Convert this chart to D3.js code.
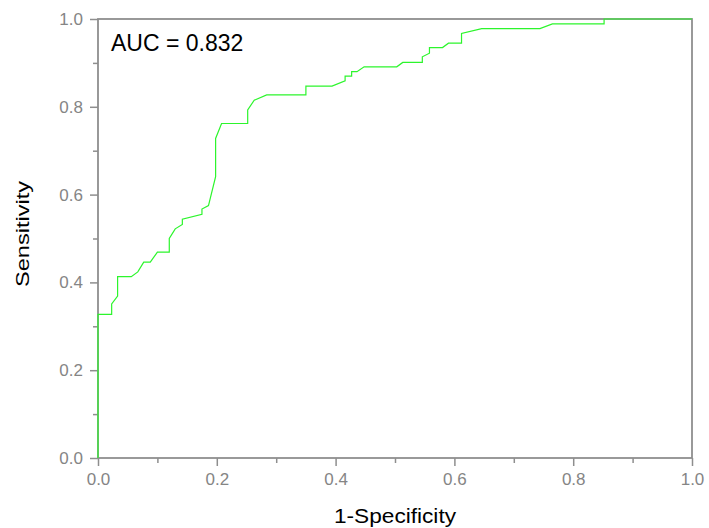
<!DOCTYPE html>
<html>
<head>
<meta charset="utf-8">
<script src="https://cdn.jsdelivr.net/npm/d3@7"></script>
<style>
  body { margin: 0; background: #fff; }
  text { font-family: "Liberation Sans", Arial, sans-serif; }
</style>
</head>
<body>
<svg id="chart" width="709" height="528"></svg>
<script>
// ROC curve points (1-specificity, sensitivity)
const fpr = [0, 0, 0.023, 0.023, 0.033, 0.033, 0.056, 0.067, 0.077, 0.088, 0.100, 0.120,
  0.120, 0.130, 0.142, 0.142, 0.175, 0.175, 0.186, 0.198, 0.198, 0.208, 0.252, 0.252,
  0.263, 0.284, 0.350, 0.350, 0.394, 0.416, 0.416, 0.427, 0.427, 0.436, 0.448, 0.503,
  0.513, 0.546, 0.546, 0.558, 0.558, 0.580, 0.590, 0.612, 0.612, 0.646, 0.744, 0.765,
  0.852, 0.852, 1];
const tpr = [0, 0.327, 0.327, 0.351, 0.369, 0.413, 0.413, 0.424, 0.446, 0.446, 0.469, 0.469,
  0.500, 0.522, 0.532, 0.544, 0.555, 0.567, 0.575, 0.641, 0.728, 0.762, 0.762, 0.793,
  0.815, 0.827, 0.827, 0.847, 0.847, 0.859, 0.870, 0.870, 0.880, 0.880, 0.891, 0.891,
  0.901, 0.901, 0.914, 0.922, 0.935, 0.935, 0.945, 0.945, 0.967, 0.978, 0.978, 0.989,
  0.989, 1, 1];
const majorTicks = [0, 0.2, 0.4, 0.6, 0.8, 1.0];
const minorTicks = [0.1, 0.3, 0.5, 0.7, 0.9];
const aucLabel = "AUC = 0.832";

const svg = d3.select("#chart");
const margin = { top: 19, right: 17, bottom: 70, left: 98 };
const width = 709 - margin.left - margin.right;
const height = 528 - margin.top - margin.bottom;
const axisColor = "#8e8e8e";
const labelColor = "#858585";

const x = d3.scaleLinear().domain([0, 1]).range([margin.left, margin.left + width]);
const y = d3.scaleLinear().domain([0, 1]).range([margin.top + height, margin.top]);

const fmt = d3.format(".1f");

// minor ticks first, then major ones with labels
const xMinor = svg.append("g")
  .attr("transform", `translate(0,${y(0)})`)
  .call(d3.axisBottom(x).tickValues(minorTicks).tickSize(5).tickFormat(""));
const xMajor = svg.append("g")
  .attr("transform", `translate(0,${y(0)})`)
  .call(d3.axisBottom(x).tickValues(majorTicks).tickSize(8).tickPadding(7).tickFormat(fmt));
const yMinor = svg.append("g")
  .attr("transform", `translate(${x(0)},0)`)
  .call(d3.axisLeft(y).tickValues(minorTicks).tickSize(5).tickFormat(""));
const yMajor = svg.append("g")
  .attr("transform", `translate(${x(0)},0)`)
  .call(d3.axisLeft(y).tickValues(majorTicks).tickSize(8).tickPadding(7).tickFormat(fmt));

[xMinor, xMajor, yMinor, yMajor].forEach((g) => {
  g.select(".domain").remove();
  g.selectAll("line").attr("stroke", axisColor).attr("stroke-width", 1.5);
  g.selectAll("text")
    .attr("fill", labelColor)
    .style("font-size", "17px")
    .style("font-family", "'Liberation Sans', Arial, sans-serif");
});

// frame
svg.append("rect")
  .attr("x", x(0))
  .attr("y", y(1))
  .attr("width", x(1) - x(0))
  .attr("height", y(0) - y(1))
  .attr("fill", "none")
  .attr("stroke", axisColor)
  .attr("stroke-width", 1.8);

const line = d3.line()
  .x((d) => x(d[0]))
  .y((d) => y(d[1]));

svg.append("path")
  .datum(d3.zip(fpr, tpr))
  .attr("d", line)
  .attr("fill", "none")
  .attr("stroke", "#2cf52c")
  .attr("stroke-width", 1.2);

svg.append("text")
  .attr("x", x(0) + 13)
  .attr("y", y(1) + 32)
  .attr("fill", "#000")
  .style("font-size", "23px")
  .text(aucLabel);

svg.append("text")
  .attr("x", x(0.5))
  .attr("y", 523)
  .attr("text-anchor", "middle")
  .attr("fill", "#000")
  .attr("textLength", 122)
  .attr("lengthAdjust", "spacingAndGlyphs")
  .style("font-size", "20px")
  .text("1-Specificity");

svg.append("text")
  .attr("transform", `translate(29,234) rotate(-90)`)
  .attr("text-anchor", "middle")
  .attr("fill", "#000")
  .attr("textLength", 106)
  .attr("lengthAdjust", "spacingAndGlyphs")
  .style("font-size", "18px")
  .text("Sensitivity");
</script>
</body>
</html>
